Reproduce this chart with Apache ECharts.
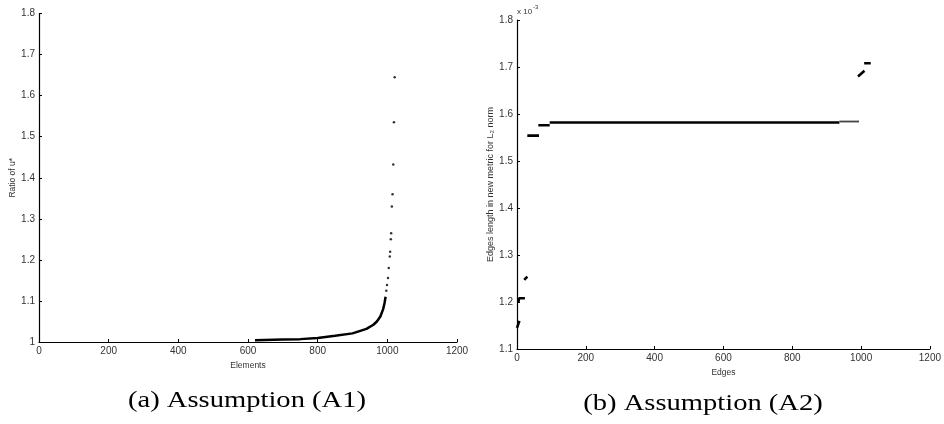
<!DOCTYPE html>
<html><head><meta charset="utf-8">
<script src="https://cdn.jsdelivr.net/npm/echarts@6/dist/echarts.min.js"></script>
<style>html,body{margin:0;padding:0;background:#fff}#c{width:944px;height:424px}</style>
</head><body><div id="c"></div>
<script>
// ---- Left chart (a): ratio of u* vs elements ----
const xTicks = [0, 200, 400, 600, 800, 1000, 1200];
const leftYTicks = [1, 1.1, 1.2, 1.3, 1.4, 1.5, 1.6, 1.7, 1.8];
const rightYTicks = [1.1, 1.2, 1.3, 1.4, 1.5, 1.6, 1.7, 1.8];

// dense part of the sorted ratios (drawn as a continuous trace)
const denseX = [620, 700, 750, 800, 850, 900, 940, 960, 970, 980, 988, 992, 995];
const denseY = [1.004, 1.006, 1.007, 1.010, 1.015, 1.021, 1.032, 1.042, 1.050, 1.062, 1.080, 1.095, 1.110];
// sparse isolated points near the end
const sparseX = [997, 999, 1002, 1004, 1007, 1008, 1010, 1011, 1013, 1015, 1017, 1019, 1021];
const sparseY = [1.125, 1.139, 1.156, 1.180, 1.208, 1.220, 1.250, 1.265, 1.330, 1.360, 1.432, 1.535, 1.645];

// ---- Right chart (b): edge lengths (x 10^-3) ----
const seg1 = [[0, 1.145], [7, 1.160]];
const seg2 = [[4, 1.200], [6, 1.208], [23, 1.208]];
const seg3 = [[21, 1.247], [30, 1.254]];
const seg4 = [[30, 1.554], [64, 1.554]];
const seg5 = [[62, 1.576], [95, 1.576]];
const seg6 = [[95, 1.582], [937, 1.582]];
const seg7 = [[937, 1.584], [994, 1.584]];
const seg8 = [[991, 1.680], [1010, 1.692]];
const seg9 = [[1009, 1.708], [1028, 1.708]];
const rightSegments = [seg1, seg2, seg3, seg4, seg5, seg6, seg8, seg9];

const sans = 'Liberation Sans';
const axisBase = {
  axisLine: {show: true, lineStyle: {color: '#000', width: 1.2}},
  axisTick: {show: true, inside: true, length: 3, lineStyle: {color: '#000', width: 1}},
  splitLine: {show: false},
  axisLabel: {fontFamily: sans, fontSize: 10, color: '#333', margin: 4}
};
function xAx(gi, gap) {
  return Object.assign({}, axisBase, {
    gridIndex: gi, type: 'value', min: xTicks[0], max: xTicks[xTicks.length - 1], interval: xTicks[1] - xTicks[0],
    axisLabel: Object.assign({}, axisBase.axisLabel, {formatter: v => String(v)}),
    name: gi === 0 ? 'Elements' : 'Edges', nameLocation: 'middle', nameGap: gap,
    nameTextStyle: {fontFamily: sans, fontSize: 8.5, color: '#333'}
  });
}
function yAx(gi, ticks, name, gap, fs) {
  return Object.assign({}, axisBase, {
    gridIndex: gi, type: 'value', min: ticks[0], max: ticks[ticks.length - 1],
    interval: 0.1,
    axisLabel: Object.assign({}, axisBase.axisLabel, {formatter: v => {
      const r = Math.round(v * 10) / 10; return String(r);
    }}),
    name: name, nameLocation: 'middle', nameGap: gap, nameRotate: 90,
    nameTextStyle: {fontFamily: sans, fontSize: fs, color: '#333'}
  });
}

const series = [
  {type: 'line', xAxisIndex: 0, yAxisIndex: 0, data: denseX.map((x, i) => [x, denseY[i]]),
   showSymbol: false, lineStyle: {color: '#000', width: 2.5}, silent: true, animation: false},
  {type: 'scatter', xAxisIndex: 0, yAxisIndex: 0, data: sparseX.map((x, i) => [x, sparseY[i]]),
   symbol: 'circle', symbolSize: 2.5, itemStyle: {color: '#000'}, silent: true, animation: false}
];
rightSegments.forEach(s => series.push({
  type: 'line', xAxisIndex: 1, yAxisIndex: 1, data: s, showSymbol: false,
  lineStyle: {color: '#000', width: 2.6}, silent: true, animation: false
}));
series.push({type: 'line', xAxisIndex: 1, yAxisIndex: 1, data: seg7, showSymbol: false,
  lineStyle: {color: '#444', width: 1.8}, silent: true, animation: false});

const capFont = '24px "Liberation Serif"';
const chart = echarts.init(document.getElementById('c'), null, {renderer: 'canvas'});
chart.setOption({
  animation: false,
  backgroundColor: '#fff',
  grid: [
    {left: 39, top: 13.5, width: 418, height: 328.5},
    {left: 517, top: 20, width: 416, height: 329}
  ],
  xAxis: [xAx(0, 14), xAx(1, 15)],
  yAxis: [
    yAx(0, leftYTicks, 'Ratio of u*', 22, 8.5),
    yAx(1, rightYTicks, 'Edges length in new metric for L\u2082 norm', 22, 9)
  ],
  series: series,
  graphic: [
    {type: 'text', left: 517, top: 8, style: {text: 'x 10', font: '8px "Liberation Sans"', fill: '#333'}},
    {type: 'text', left: 533, top: 4, style: {text: '-3', font: '6px "Liberation Sans"', fill: '#333'}},
    {type: 'text', x: 247, y: 401, scaleX: 1.19, scaleY: 1, style: {text: '(a) Assumption (A1)', font: capFont, fill: '#000', align: 'center', verticalAlign: 'middle'}},
    {type: 'text', x: 703, y: 404, scaleX: 1.19, scaleY: 1, style: {text: '(b) Assumption (A2)', font: capFont, fill: '#000', align: 'center', verticalAlign: 'middle'}}
  ]
});
</script></body></html>
